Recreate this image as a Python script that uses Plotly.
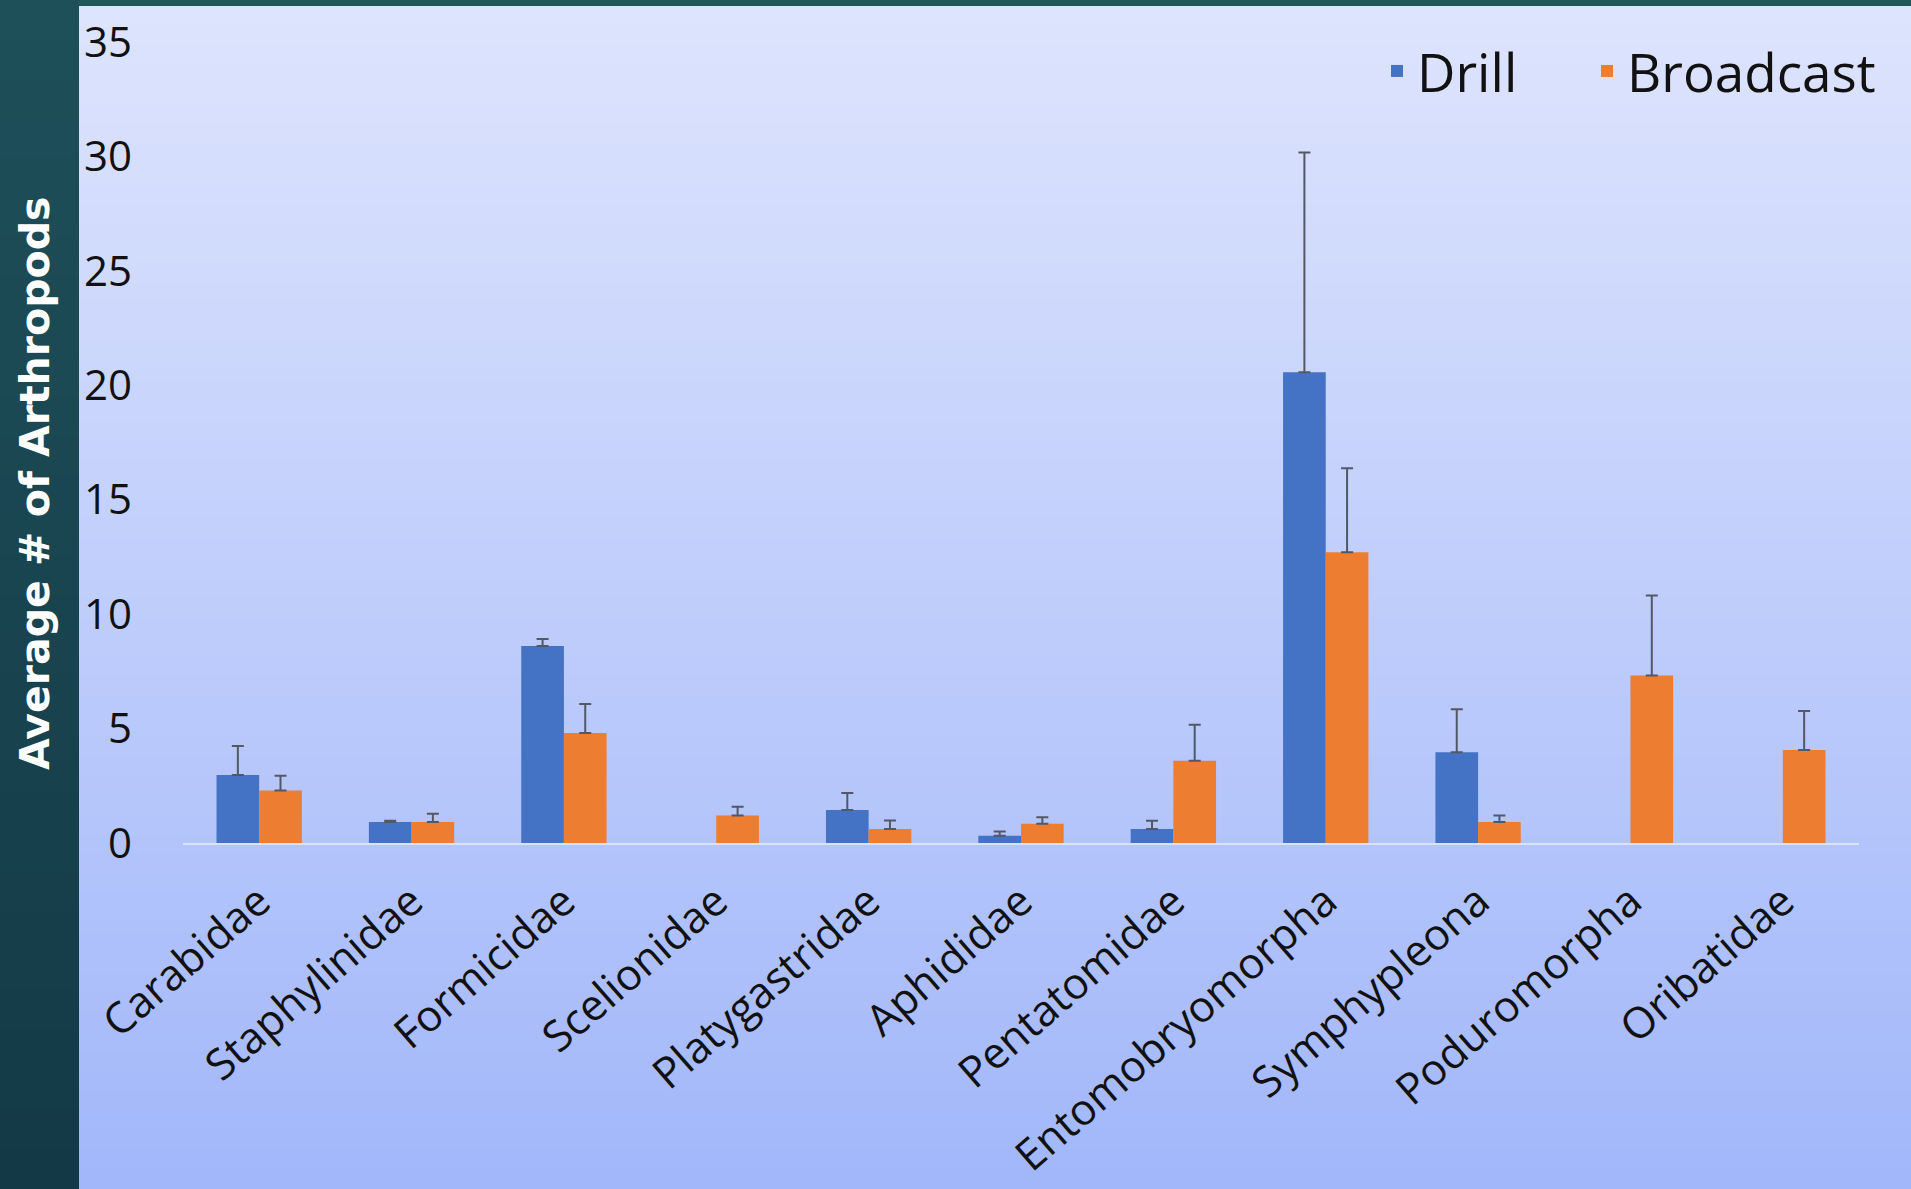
import plotly.graph_objects as go

categories = ["Carabidae", "Staphylinidae", "Formicidae", "Scelionidae", "Platygastridae",
              "Aphididae", "Pentatomidae", "Entomobryomorpha", "Symphypleona",
              "Poduromorpha", "Oribatidae"]
drill = [2.97, 0.92, 8.61, None, 1.44, 0.32, 0.61, 20.57, 3.96, None, None]
drill_err = [1.27, 0.05, 0.30, None, 0.75, 0.18, 0.36, 9.60, 1.88, None, None]
broadcast = [2.29, 0.92, 4.81, 1.20, 0.61, 0.84, 3.59, 12.70, 0.92, 7.32, 4.06]
broadcast_err = [0.65, 0.36, 1.26, 0.38, 0.37, 0.28, 1.58, 3.67, 0.28, 3.50, 1.71]
y_ticks = [0, 5, 10, 15, 20, 25, 30, 35]
y_title = "Average # of Arthropods"

W, H = 1911, 1189
ML, MR, MT, MB = 183, 52, 42, 346
PW, PH = W - ML - MR, H - MT - MB


def px_x(p):
    return (p - ML) / PW


def px_y(p):
    return (H - MB - p) / PH


def lerp(c1, c2, t):
    return "rgb(%d,%d,%d)" % tuple(round(a + (b - a) * t) for a, b in zip(c1, c2))


shapes = []
# light gradient panel
N = 60
top_c, bot_c = (222, 228, 253), (161, 183, 250)
y0p, y1p = 6, H
for i in range(N):
    a = y0p + (y1p - y0p) * i / N
    b = y0p + (y1p - y0p) * (i + 1) / N + 1
    shapes.append(dict(type="rect", xref="paper", yref="paper", layer="below",
                       x0=px_x(79), x1=px_x(W + 2), y0=px_y(a), y1=px_y(b),
                       fillcolor=lerp(top_c, bot_c, (i + 0.5) / N), line=dict(width=0)))
# dark left panel gradient
M = 30
dtop, dbot = (30, 80, 90), (19, 57, 70)
for i in range(M):
    a = H * i / M
    b = H * (i + 1) / M + 1
    shapes.append(dict(type="rect", xref="paper", yref="paper", layer="below",
                       x0=px_x(-2), x1=px_x(79), y0=px_y(a), y1=px_y(b),
                       fillcolor=lerp(dtop, dbot, (i + 0.5) / M), line=dict(width=0)))
# top dark strip
shapes.append(dict(type="rect", xref="paper", yref="paper", layer="below",
                   x0=px_x(79), x1=px_x(W + 2), y0=px_y(-2), y1=px_y(6),
                   fillcolor="rgb(33,87,89)", line=dict(width=0)))

err_style = dict(color="#525866", thickness=2, width=6)

fig = go.Figure()
fig.add_trace(go.Bar(
    name="Drill", x=categories, y=drill, marker=dict(color="#4472C4", line=dict(width=0)),
    legend="legend",
    error_y=dict(type="data", symmetric=False, array=drill_err,
                 arrayminus=[0] * len(categories), **err_style)))
fig.add_trace(go.Bar(
    name="Broadcast", x=categories, y=broadcast, marker=dict(color="#ED7D31", line=dict(width=0)),
    legend="legend2",
    error_y=dict(type="data", symmetric=False, array=broadcast_err,
                 arrayminus=[0] * len(categories), **err_style)))

legend_font = dict(size=53, family="Open Sans", color="#111111")
fig.update_layout(
    width=W, height=H,
    margin=dict(l=ML, r=MR, t=MT, b=MB, autoexpand=False),
    paper_bgcolor="rgb(24,68,80)",
    plot_bgcolor="rgba(0,0,0,0)",
    barmode="group", bargap=0.44, bargroupgap=0,
    shapes=shapes,
    showlegend=True,
    font=dict(family="Open Sans", color="#111111"),
    legend=dict(orientation="h", xanchor="left", yanchor="middle",
                x=px_x(1377), y=px_y(71), font=legend_font, bgcolor="rgba(0,0,0,0)"),
    legend2=dict(orientation="h", xanchor="left", yanchor="middle",
                 x=px_x(1587), y=px_y(71), font=legend_font, bgcolor="rgba(0,0,0,0)"),
    xaxis=dict(showgrid=False, showline=True, linecolor="#dbe2f8", linewidth=2,
               tickangle=-41, tickfont=dict(size=43, family="Open Sans", color="#111111"),
               ticks="", ticklabelstandoff=14, automargin=False),
    yaxis=dict(range=[0, 35], tickvals=y_ticks, showgrid=False, zeroline=False,
               showline=False, ticks="", automargin=False,
               tickfont=dict(size=42, family="Open Sans", color="#111111"),
               ticklabelstandoff=50),
    annotations=[dict(text=y_title, textangle=-90, xref="paper", yref="paper",
                      x=px_x(35), y=px_y(484), xanchor="center", yanchor="middle",
                      showarrow=False,
                      font=dict(family="DejaVu Sans", size=41, color="white", weight="bold"))],
)

fig.write_html("out.html", config={"displayModeBar": False},
               post_script="document.body.style.margin='0';document.body.style.overflow='hidden';")
